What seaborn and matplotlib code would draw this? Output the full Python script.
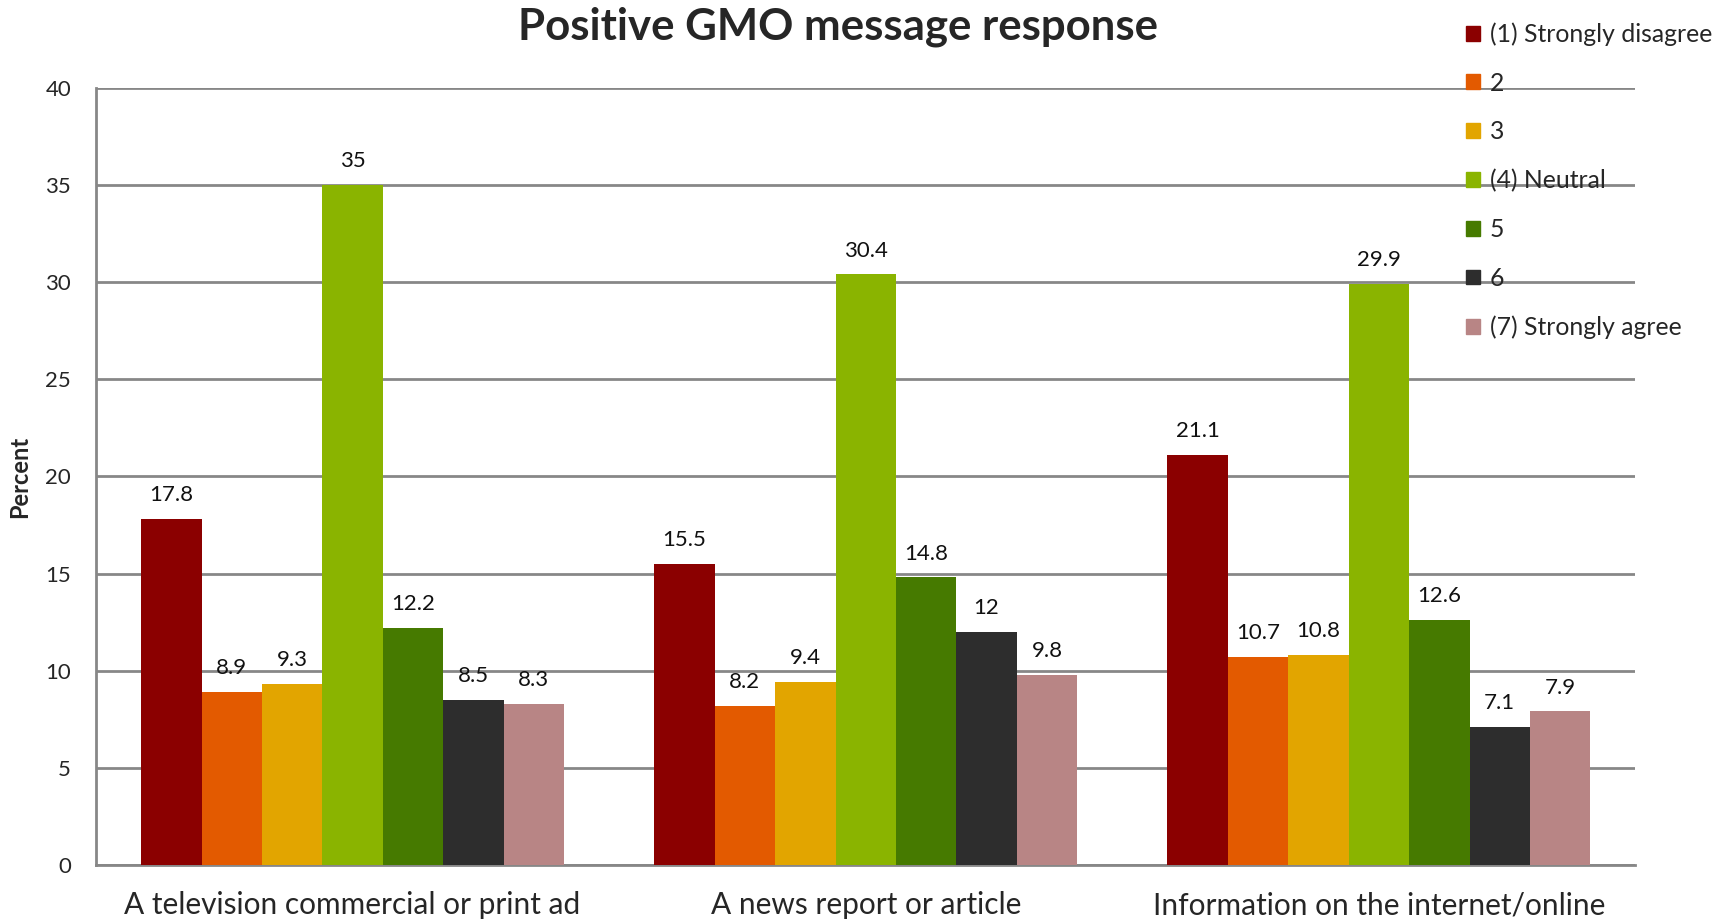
import pandas as pd
import seaborn as sns
import matplotlib.pyplot as plt

# dados
categorias = ["A television commercial or print ad", "A news report or article",
              "Information on the internet/online"]
respostas = ["(1) Strongly disagree", "2", "3", "(4) Neutral", "5", "6", "(7) Strongly agree"]
tv = [17.8, 8.9, 9.3, 35, 12.2, 8.5, 8.3]
noticia = [15.5, 8.2, 9.4, 30.4, 14.8, 12, 9.8]
internet = [21.1, 10.7, 10.8, 29.9, 12.6, 7.1, 7.9]
rotulos = {"tv": ["17.8", "8.9", "9.3", "35", "12.2", "8.5", "8.3"],
           "noticia": ["15.5", "8.2", "9.4", "30.4", "14.8", "12", "9.8"],
           "internet": ["21.1", "10.7", "10.8", "29.9", "12.6", "7.1", "7.9"]}

cores = ["#8B0000", "#E35A00", "#E2A500", "#8AB400", "#467A00", "#2D2D2D", "#B88585"]

linhas = []
for cat, vals in zip(categorias, [tv, noticia, internet]):
    for r, v in zip(respostas, vals):
        linhas.append({"categoria": cat, "resposta": r, "percent": v})
df = pd.DataFrame(linhas)

sns.set_style("white")
plt.rcParams["font.family"] = ["Lato", "DejaVu Sans"]

fig = plt.figure(figsize=(17.27, 9.22), dpi=100)
ax = fig.add_axes([0.0556, 0.062, 0.8914, 0.8425])

sns.barplot(data=df, x="categoria", y="percent", hue="resposta", hue_order=respostas,
            palette=cores, width=0.824, gap=0, saturation=1, linewidth=0, ax=ax, zorder=3)

grupos = [rotulos["tv"], rotulos["noticia"], rotulos["internet"]]
for i, cont in enumerate(ax.containers):
    labs = [grupos[j][i] for j in range(len(categorias))]
    ax.bar_label(cont, labels=labs, padding=10, fontsize=16, color="#111111")

ax.set_ylim(0, 40)
ax.set_yticks(range(0, 41, 5))
ax.set_xlim(-0.5, 2.5)
ax.yaxis.grid(True, color="#878787", linewidth=2, zorder=0)
ax.set_axisbelow(True)
for s in ["top", "right"]:
    ax.spines[s].set_visible(False)
for s in ["left", "bottom"]:
    ax.spines[s].set_color("#878787")
    ax.spines[s].set_linewidth(2)

# marcas nas divisões entre grupos, rótulos no centro
ax.set_xticks([-0.5, 0.5, 1.5, 2.5])
ax.set_xticklabels([])
ax.tick_params(axis="x", which="major", length=10, width=2, color="#878787", direction="out")
ax.set_xticks([0, 1, 2], minor=True)
ax.set_xticklabels(categorias, minor=True, fontsize=21.5)
ax.tick_params(axis="x", which="minor", length=0, pad=19)
ax.tick_params(axis="y", labelsize=16, length=8, width=2, color="#878787", direction="out", pad=10)

ax.set_xlabel("")
ax.set_ylabel("Percent", fontsize=17, fontweight="bold", labelpad=10)
fig.suptitle("Positive GMO message response", fontsize=31.5, fontweight="bold", x=0.485, y=0.993)

ax.legend_.remove()
handles = [plt.Rectangle((0, 0), 1, 1, color=c) for c in cores]
fig.legend(handles, respostas, loc="upper left", bbox_to_anchor=(0.836, 1.0), frameon=False,
           fontsize=17.8, handlelength=0.55, handleheight=0.55, handletextpad=0.4, labelspacing=1.04)

plt.savefig("out.png", dpi=100)
